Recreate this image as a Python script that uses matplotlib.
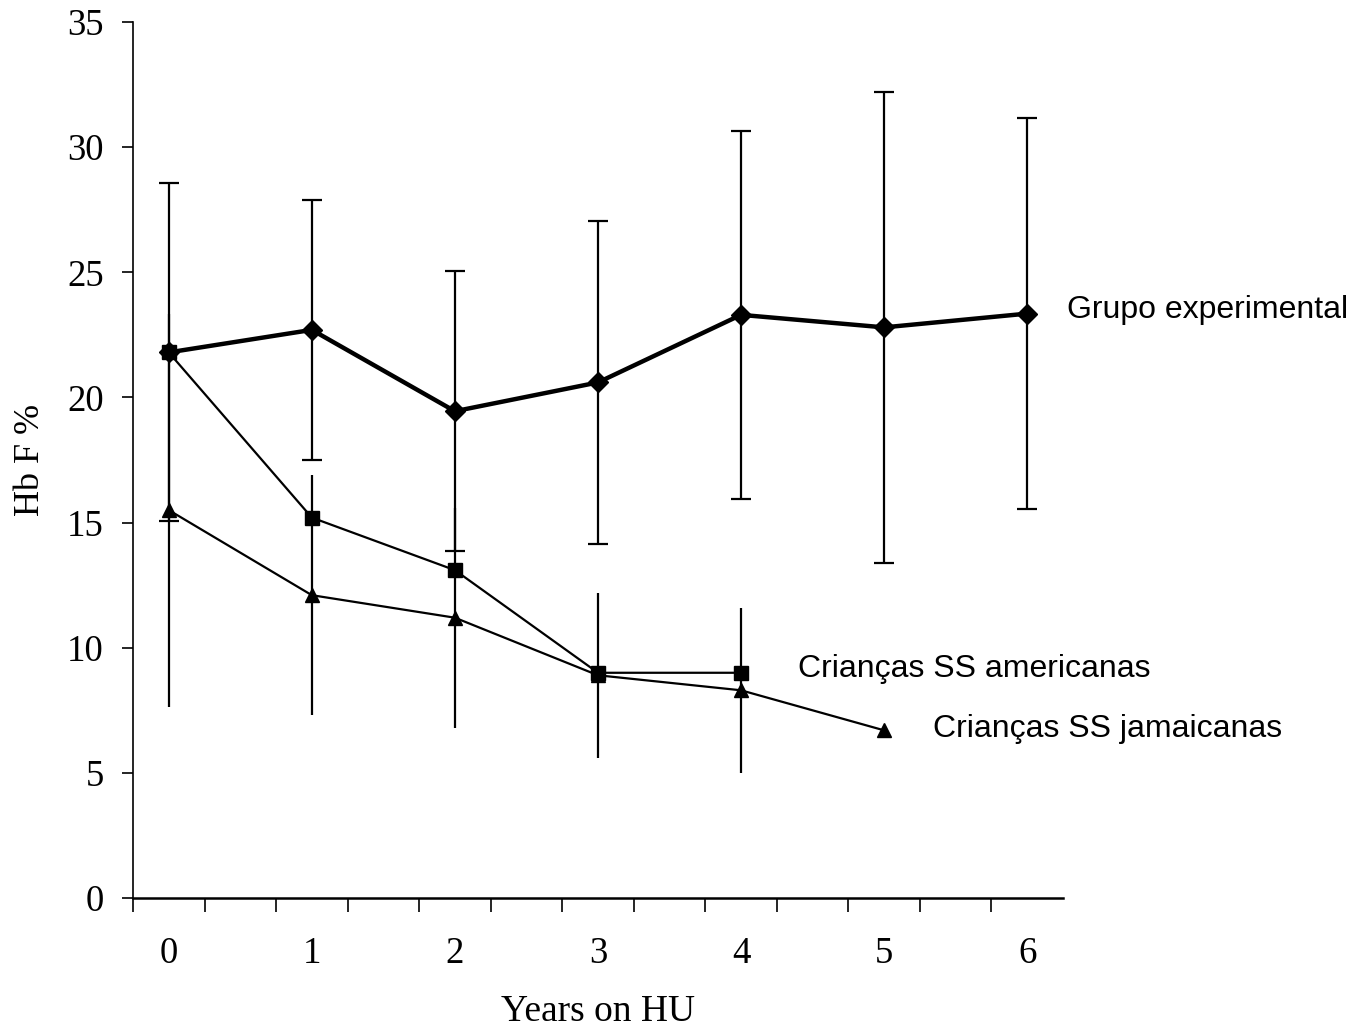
import numpy as np
import matplotlib
matplotlib.use("Agg")
import matplotlib.pyplot as plt

# data
years = [0, 1, 2, 3, 4, 5, 6]
grupo = [21.8, 22.7, 19.45, 20.6, 23.3, 22.8, 23.35]
grupo_err = [6.75, 5.2, 5.6, 6.45, 7.35, 9.4, 7.8]

amer_years = [0, 1, 2, 3, 4]
amer = [21.8, 15.2, 13.1, 9.0, 9.0]

jam_years = [0, 1, 2, 3, 4, 5]
jam = [15.5, 12.1, 11.2, 8.9, 8.3, 6.7]
jam_err = [7.85, 4.8, 4.4, 3.3, 3.3, 0]

serif = "Liberation Serif"
sans = "Liberation Sans"

fig = plt.figure(figsize=(13.57, 10.34), dpi=100)
ax = fig.add_axes([0.098, 0.1315, 0.6853, 0.8472])

# americanas (no error bars)
ax.plot(amer_years, amer, color="black", lw=1.6, marker="s", ms=9.5, zorder=3)

# jamaicanas, error bars without caps
ax.errorbar(jam_years, jam, yerr=jam_err, color="black", lw=1.6, marker="^",
            ms=10, elinewidth=1.6, capsize=0, zorder=3)

# grupo experimental, capped error bars
ax.errorbar(years, grupo, yerr=grupo_err, color="black", lw=3.2, marker="D",
            ms=10.5, elinewidth=1.6, capsize=7, capthick=1.6, zorder=4)

ax.set_xlim(-0.25, 6.25)
ax.set_ylim(0, 35)

ax.spines["top"].set_visible(False)
ax.spines["right"].set_visible(False)
ax.spines["left"].set_linewidth(1.2)
ax.spines["bottom"].set_linewidth(1.8)

ax.set_xticks(np.arange(-0.25, 6.0, 0.5))
ax.set_xticklabels([])
ax.tick_params(axis="x", which="major", direction="out", length=10, width=1.2)
ax.set_xticks(years, minor=True)
ax.set_xticklabels([str(y) for y in years], minor=True, fontfamily=serif, fontsize=26.5)
ax.tick_params(axis="x", which="minor", length=0, pad=28)

ax.set_yticks(np.arange(0, 36, 5))
ax.set_yticklabels([str(v) for v in range(0, 36, 5)], fontfamily=serif, fontsize=26.5)
ax.tick_params(axis="y", direction="out", length=8, width=1.2, pad=13)

ax.set_xlabel("Years on HU", fontfamily=serif, fontsize=27)
ax.xaxis.set_label_coords(0.5, -0.11)
ax.set_ylabel("Hb F %", fontfamily=serif, fontsize=26)
ax.yaxis.set_label_coords(-0.092, 0.5)

ax.text(6.28, 23.5, "Grupo experimental", fontfamily=sans, fontsize=23,
        va="center", ha="left", clip_on=False)
ax.text(4.40, 9.15, "Crianças SS americanas", fontfamily=sans, fontsize=23,
        va="center", ha="left", clip_on=False)
ax.text(5.34, 6.75, "Crianças SS jamaicanas", fontfamily=sans, fontsize=23,
        va="center", ha="left", clip_on=False)

fig.savefig("out.png", dpi=100)
